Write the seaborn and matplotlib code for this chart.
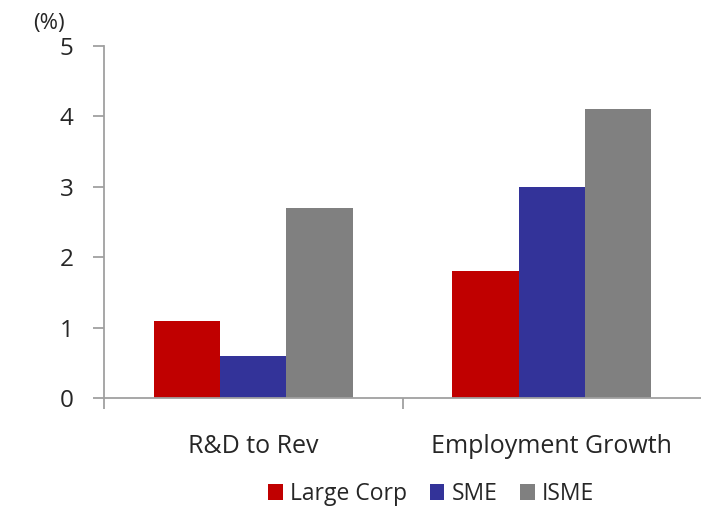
import matplotlib
matplotlib.use("Agg")
import matplotlib.pyplot as plt
import seaborn as sns
import pandas as pd

categories = ["R&D to Rev", "Employment Growth"]
series = ["Large Corp", "SME", "ISME"]
large_corp = [1.1, 1.8]
sme = [0.6, 3.0]
isme = [2.7, 4.1]
colors = ["#C00000", "#333399", "#808080"]
y_ticks = [0, 1, 2, 3, 4, 5]

rows = []
for name, vals in zip(series, [large_corp, sme, isme]):
    for c, v in zip(categories, vals):
        rows.append({"category": c, "series": name, "value": v})
df = pd.DataFrame(rows)

sns.set_style("white")
plt.rcParams["font.family"] = ["Open Sans", "DejaVu Sans"]

fig = plt.figure(figsize=(7.01, 5.08), dpi=100)
ax = fig.add_axes([104/701, 110/508, (701-104)/701, (398-46)/508])

sns.barplot(data=df, x="category", y="value", hue="series", order=categories,
            hue_order=series, palette=colors, width=0.665, saturation=1,
            edgecolor="none", linewidth=0, ax=ax)

ax.set_xlim(-0.5, 1.5)
ax.set_ylim(0, 5)
ax.set_yticks(y_ticks)
ax.set_yticklabels([str(t) for t in y_ticks], fontsize=17.5)
ax.set_xlabel("")
ax.set_ylabel("")
ax.set_xticks([0, 1])
ax.set_xticklabels(categories, fontsize=18)
ax.tick_params(axis="x", which="major", bottom=True, length=0, pad=26)
ax.set_xticks([-0.5, 0.5], minor=True)
ax.tick_params(axis="x", which="minor", bottom=True, length=8, width=1.3,
               color="#A0A0A0", direction="out")
ax.tick_params(axis="y", left=True, length=8, width=1.3, color="#A0A0A0",
               direction="out", pad=14)

for s in ["top", "right"]:
    ax.spines[s].set_visible(False)
for s in ["left", "bottom"]:
    ax.spines[s].set_color("#A0A0A0")
    ax.spines[s].set_linewidth(1.3)

ax.text(-0.065, 1.035, "(%)", transform=ax.transAxes, fontsize=16, ha="right", va="bottom")

handles, labels = ax.get_legend_handles_labels()
ax.legend_.remove()
fig.legend(handles, labels, loc="center", bbox_to_anchor=(431/701, 1 - 494/508), ncol=3,
           frameon=False, fontsize=16.5, handlelength=0.65, handleheight=0.65,
           handletextpad=0.3, columnspacing=1.0, borderpad=0)

fig.savefig("out.png", dpi=100)
